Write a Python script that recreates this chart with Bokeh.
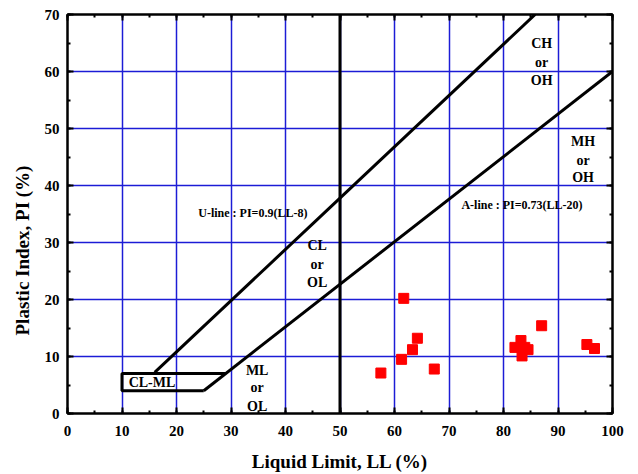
from bokeh.plotting import figure
from bokeh.models import LinearAxis, Range1d, FixedTicker, ColumnDataSource, Title
from bokeh.core.properties import value
from bokeh.embed import file_html
from bokeh.resources import INLINE

# Data points (LL, PI)
ll = [57.5, 61.3, 61.7, 63.3, 64.2, 67.3, 82.1, 83.2, 83.9, 84.5, 83.4, 87.0, 95.3, 96.7]
pi = [7.1, 9.5, 20.2, 11.2, 13.2, 7.8, 11.6, 12.8, 11.6, 11.2, 10.1, 15.4, 12.1, 11.4]

# Reference lines
u_line_ll = [16.0, 85.8]
u_line_pi = [7.2, 70.0]
a_line_ll = [25.0, 100.0]
a_line_pi = [4.0, 60.0]
clml_ll = [29.0, 10.0, 10.0, 25.0]
clml_pi = [7.0, 7.0, 4.0, 4.0]
ll50_ll = [50, 50]
ll50_pi = [0, 70]

label_text = ["CH", "or", "OH", "MH", "or", "OH", "CL", "or", "OL", "ML", "or", "OL", "CL-ML"]
label_ll = [87.0, 87.0, 87.0, 94.6, 94.6, 94.6, 45.8, 45.8, 45.8, 34.8, 34.8, 34.8, 15.5]
label_pi = [64.9, 61.6, 58.5, 47.7, 44.3, 41.4, 29.4, 26.2, 23.0, 7.6, 4.5, 1.3, 5.5]

eq_text = ["U-line : PI=0.9(LL-8)", "A-line : PI=0.73(LL-20)"]
eq_ll = [34.0, 83.4]
eq_pi = [35.2, 36.5]

xticks = list(range(0, 101, 10))
yticks = list(range(0, 71, 10))
x_title = "Liquid Limit, LL (%)"
y_title = "Plastic Index, PI (%)"

FONT = "Liberation Serif"

p = figure(width=630, height=474, output_backend="svg", toolbar_location=None,
           x_range=Range1d(0, 100), y_range=Range1d(0, 70),
           min_border_left=67, min_border_top=14, min_border_right=18, min_border_bottom=59)
p.outline_line_color = "black"
p.outline_line_width = 2

for ax in (p.xaxis[0], p.yaxis[0]):
    ax.major_tick_in = 6
    ax.major_tick_out = 0
    ax.minor_tick_in = 3
    ax.minor_tick_out = 0
    ax.axis_line_width = 2
    ax.major_tick_line_width = 2
    ax.minor_tick_line_width = 2
    ax.major_label_text_font = FONT
    ax.major_label_text_font_style = "bold"
    ax.major_label_text_font_size = "15px"
    ax.major_label_text_color = "black"
    ax.axis_label_text_font = FONT
    ax.axis_label_text_font_style = "bold"
    ax.axis_label_text_font_size = "19px"
    ax.axis_label_text_color = "black"

p.xaxis[0].ticker = FixedTicker(ticks=xticks, minor_ticks=list(range(0, 101, 5)))
p.yaxis[0].ticker = FixedTicker(ticks=yticks, minor_ticks=list(range(0, 71, 5)))
p.xaxis[0].axis_label = x_title
p.xaxis[0].major_label_standoff = 12
p.yaxis[0].major_label_standoff = 8
p.xaxis[0].axis_label_standoff = 12

for loc, ticks, mt in (("above", xticks, list(range(0, 101, 5))), ("right", yticks, list(range(0, 71, 5)))):
    ax = LinearAxis(ticker=FixedTicker(ticks=ticks, minor_ticks=mt))
    ax.major_tick_in = 6
    ax.major_tick_out = 0
    ax.minor_tick_in = 3
    ax.minor_tick_out = 0
    ax.axis_line_width = 2
    ax.major_tick_line_width = 2
    ax.minor_tick_line_width = 2
    ax.major_label_text_font_size = "0px"
    ax.major_label_text_color = None
    ax.major_label_standoff = 0
    p.add_layout(ax, loc)

p.xgrid.ticker = FixedTicker(ticks=xticks)
p.ygrid.ticker = FixedTicker(ticks=yticks)
for g in (p.xgrid[0], p.ygrid[0]):
    g.grid_line_color = "#1c1cd6"
    g.grid_line_width = 1.5

p.line(ll50_ll, ll50_pi, line_color="black", line_width=3)
p.line(u_line_ll, u_line_pi, line_color="black", line_width=3)
p.line(a_line_ll, a_line_pi, line_color="black", line_width=3)
p.line(clml_ll, clml_pi, line_color="black", line_width=3)

p.scatter(ll, pi, marker="square", size=10, fill_color="red", line_color="red")

lab = ColumnDataSource(dict(x=label_ll, y=label_pi, t=label_text))
p.text(x="x", y="y", text="t", source=lab, text_font=value(FONT), text_font_style="bold",
       text_font_size="14px", text_align="center", text_baseline="middle", text_color="black")
eq = ColumnDataSource(dict(x=eq_ll, y=eq_pi, t=eq_text))
p.text(x="x", y="y", text="t", source=eq, text_font=value(FONT), text_font_style="bold",
       text_font_size="12px", text_align="center", text_baseline="middle", text_color="black")

# y-axis title as a side title (it sits below the frame centre in the reference)
yt = Title(text=y_title, align="left", offset=78, standoff=18, text_font=FONT,
           text_font_style="bold", text_font_size="19px", text_color="black")
p.add_layout(yt, "left")

open("out.html", "w").write(file_html(p, INLINE))
